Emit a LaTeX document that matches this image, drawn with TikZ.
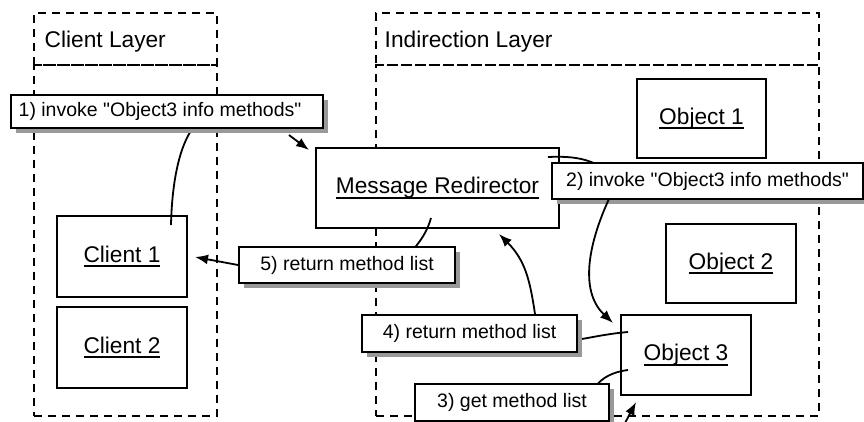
\documentclass[tikz,border=0pt]{standalone}
\usepackage{fontspec}
\setmainfont{Liberation Sans}
\newfontfamily\lsans{Liberation Sans}
\usetikzlibrary{arrows.meta,shadows}
\newcommand\ulbox[1]{\setbox0\hbox{#1}\rlap{\rule[-5pt]{\wd0}{1.8pt}}\box0}
\tikzset{
  layer/.style={draw, dashed, dash pattern=on 8pt off 6pt, line width=2pt, inner sep=0pt},
  title/.style={anchor=base west, inner sep=0pt, font=\fontsize{22.7}{27}\selectfont},
  objbox/.style={draw, fill=white, line width=2pt, inner sep=0pt, minimum width=130pt, minimum height=80pt, font=\fontsize{22.7}{27}\selectfont},
  msglabel/.style={draw, fill=white, line width=1.8pt, inner sep=0pt, minimum height=36pt, font=\lsans\fontsize{19.5}{23}\selectfont,
    drop shadow={shadow xshift=5pt, shadow yshift=-5pt, fill=black!40, opacity=1}},
  conn/.style={line width=1.8pt},
  arr/.style={line width=1.8pt, -{Latex[length=13pt,width=10pt]}}
}
\begin{document}
\begin{tikzpicture}[x=1pt,y=-1pt]
\useasboundingbox (0,0) rectangle (864,421);
% layers
\node[layer, minimum width=183pt, minimum height=52pt] (clhdr) at (125.5,39) {};
\node[layer, minimum width=183pt, minimum height=351pt] (clbody) at (125.5,240.5) {};
\node[layer, minimum width=443pt, minimum height=52pt] (inhdr) at (597.5,39) {};
\node[layer, minimum width=443pt, minimum height=351pt] (inbody) at (597.5,240.5) {};
\node[title] (cltitle) at (44.5,47.5) {Client Layer};
\node[title] (intitle) at (384.5,47.5) {Indirection Layer};
% objects
\node[objbox, minimum height=81pt] (c1) at (122,256.5) {\ulbox{Client 1}};
\node[objbox, minimum height=81pt] (c2) at (122,347.5) {\ulbox{Client 2}};
\node[objbox, minimum width=243pt] (mr) at (437.5,188) {\ulbox{Message Redirector}};
\node[objbox, minimum width=129pt, minimum height=79pt] (o1) at (701.5,118.5) {\ulbox{Object 1}};
\node[objbox, minimum height=79pt] (o2) at (731,263.5) {\ulbox{Object 2}};
\node[objbox] (o3) at (686,355) {\ulbox{Object 3}};
% inner ends
\coordinate (c1in) at (171,225);
\coordinate (mrin2) at (548,157);
\coordinate (mrin5) at (431,218);
\coordinate (o3in4) at (628,332);
\coordinate (o3in3) at (628,370);
\coordinate (l3free) at (624,425);
% connectors (drawn before labels)
\draw[conn] (c1in) .. controls (172,180) and (180,145) .. (193,128);
\draw[conn] (mrin2) .. controls (570,156) and (585,158) .. (600,166);
\draw[conn] (o3in4) .. controls (605,334) and (590,338) .. (575,340);
\draw[conn] (mrin5) .. controls (427,232) and (421,240) .. (413,250);
\draw[conn] (o3in3) .. controls (612,372) and (602,378) .. (596,386);
% labels
\node[msglabel, minimum width=312pt, minimum height=33pt] (l1) at (167,111.5) {\hspace*{-14pt}1) invoke "Object3 info methods"};
\node[msglabel, minimum width=311pt] (l2) at (707.5,181) {2) invoke "Object3 info methods"};
\node[msglabel, minimum width=216pt] (l5) at (347,265) {5) return method list};
\node[msglabel, minimum width=215pt, minimum height=37pt] (l4) at (469.5,333.5) {4) return method list};
\node[msglabel, minimum width=194pt, minimum height=37pt] (l3) at (512,402.5) {3) get method list};
% arrows from labels
\draw[arr] (289,135) -- (309,150);
\draw[arr] (609,199) .. controls (590,240) and (578,290) .. (613,323);
\draw[arr] (l4.north -| 535,0) .. controls (530,280) and (525,260) .. (499,234);
\draw[arr] (l5.west |- 0,265) -- (195,257);
\draw[arr] (l3free) -- (636,402);
\end{tikzpicture}
\end{document}
